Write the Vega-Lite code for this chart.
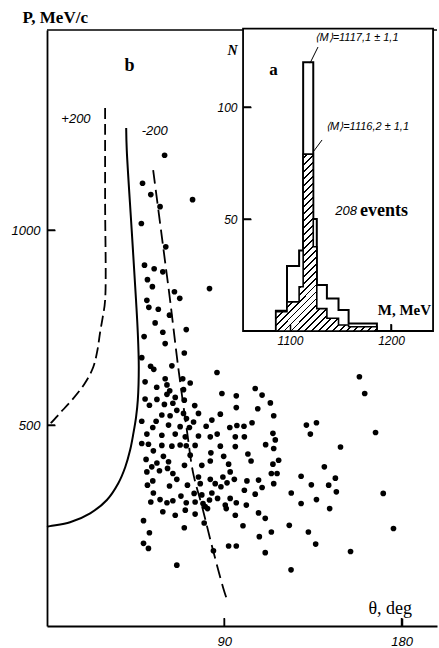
{
"$schema":"https://vega.github.io/schema/vega-lite/v6.json",
"width":390,"height":596,
"autosize":{"type":"none"},
"padding":{"left":47,"top":30,"right":2,"bottom":22},
"background":"white",
"config":{"view":{"stroke":null},"font":"Liberation Sans"},
"datasets":{
"pts":[
{"t":59.7,"p":1192},{"t":48.5,"p":1120},{"t":52.7,"p":1091},{"t":57.4,"p":1060},{"t":73.9,"p":1078},{"t":47.9,"p":1017},{"t":60.3,"p":957},{"t":49.5,"p":910},{"t":54.4,"p":901},{"t":58.8,"p":893},{"t":51.0,"p":873},{"t":53.5,"p":855},{"t":64.7,"p":842},{"t":67.4,"p":825},{"t":82.5,"p":850},{"t":50.7,"p":820},{"t":51.7,"p":802},{"t":56.5,"p":797},{"t":62.2,"p":782},{"t":54.9,"p":762},{"t":70.7,"p":745},{"t":58.8,"p":738},{"t":49.3,"p":727},{"t":60.0,"p":709},{"t":69.7,"p":685},{"t":48.1,"p":673},{"t":52.6,"p":651},{"t":54.2,"p":643},{"t":63.4,"p":652},{"t":86.3,"p":635},{"t":49.8,"p":611},{"t":60.0,"p":619},{"t":55.7,"p":597},{"t":60.9,"p":603},{"t":62.3,"p":588},{"t":68.9,"p":619},{"t":72.7,"p":608},{"t":69.3,"p":591},{"t":88.8,"p":581},{"t":105.7,"p":594},{"t":96.1,"p":575},{"t":109.2,"p":577},{"t":49.8,"p":567},{"t":52.0,"p":551},{"t":55.8,"p":566},{"t":60.9,"p":579},{"t":65.1,"p":571},{"t":63.9,"p":556},{"t":59.6,"p":553},{"t":69.7,"p":564},{"t":75.0,"p":550},{"t":58.3,"p":526},{"t":62.5,"p":524},{"t":65.9,"p":538},{"t":69.3,"p":530},{"t":70.8,"p":517},{"t":76.9,"p":530},{"t":74.4,"p":508},{"t":96.1,"p":545},{"t":88.0,"p":528},{"t":83.7,"p":513},{"t":48.1,"p":510},{"t":55.4,"p":510},{"t":53.7,"p":494},{"t":61.7,"p":500},{"t":67.6,"p":496},{"t":72.3,"p":494},{"t":80.8,"p":497},{"t":92.8,"p":494},{"t":96.4,"p":499},{"t":100.0,"p":497},{"t":104.1,"p":506},{"t":107.0,"p":542},{"t":113.4,"p":557},{"t":115.1,"p":524},{"t":131.7,"p":500},{"t":136.8,"p":506},{"t":133.7,"p":477},{"t":50.7,"p":477},{"t":65.1,"p":477},{"t":58.3,"p":474},{"t":70.2,"p":470},{"t":76.9,"p":472},{"t":82.9,"p":470},{"t":86.4,"p":477},{"t":95.6,"p":470},{"t":100.2,"p":470},{"t":114.7,"p":479},{"t":115.9,"p":462},{"t":48.1,"p":453},{"t":51.5,"p":451},{"t":58.3,"p":448},{"t":63.4,"p":446},{"t":67.6,"p":449},{"t":70.7,"p":447},{"t":75.2,"p":448},{"t":88.0,"p":446},{"t":95.6,"p":445},{"t":111.0,"p":450},{"t":158.6,"p":624},{"t":161.3,"p":581},{"t":166.8,"p":481},{"t":149.0,"p":444},{"t":115.1,"p":440},
{"t":50.3,"p":412},{"t":54.0,"p":434},{"t":59.1,"p":420},{"t":61.7,"p":406},{"t":55.8,"p":403},{"t":53.2,"p":393},{"t":50.7,"p":380},{"t":57.1,"p":383},{"t":61.2,"p":389},{"t":63.9,"p":376},{"t":65.9,"p":361},{"t":69.8,"p":397},{"t":72.7,"p":423},{"t":78.6,"p":397},{"t":82.9,"p":408},{"t":83.2,"p":429},{"t":89.7,"p":420},{"t":92.2,"p":400},{"t":102.0,"p":426},{"t":103.6,"p":408},{"t":51.0,"p":346},{"t":53.7,"p":357},{"t":62.2,"p":344},{"t":71.3,"p":346},{"t":76.9,"p":367},{"t":77.8,"p":350},{"t":82.9,"p":361},{"t":85.4,"p":350},{"t":88.3,"p":342},{"t":91.4,"p":352},{"t":89.3,"p":367},{"t":93.0,"p":380},{"t":95.1,"p":361},{"t":101.5,"p":357},{"t":107.4,"p":359},{"t":109.2,"p":340},{"t":100.2,"p":333},{"t":105.7,"p":323},{"t":54.0,"p":326},{"t":52.7,"p":303},{"t":57.4,"p":309},{"t":60.9,"p":301},{"t":63.9,"p":306},{"t":68.0,"p":318},{"t":70.7,"p":301},{"t":74.7,"p":325},{"t":75.2,"p":303},{"t":78.6,"p":321},{"t":79.2,"p":299},{"t":82.5,"p":308},{"t":81.5,"p":286},{"t":83.7,"p":326},{"t":86.6,"p":312},{"t":90.5,"p":295},{"t":91.0,"p":286},{"t":93.0,"p":312},{"t":96.1,"p":301},{"t":101.2,"p":295},{"t":58.8,"p":278},{"t":65.1,"p":269},{"t":70.2,"p":282},{"t":75.2,"p":272},{"t":80.3,"p":291},{"t":79.8,"p":249},{"t":95.6,"p":269},{"t":107.4,"p":275},{"t":110.8,"p":261},{"t":49.0,"p":255},{"t":52.0,"p":224},{"t":69.7,"p":237},{"t":99.5,"p":242},{"t":107.8,"p":214},{"t":49.0,"p":197},{"t":51.5,"p":184},{"t":84.5,"p":178},{"t":92.2,"p":190},{"t":96.1,"p":190},{"t":110.8,"p":173},{"t":65.9,"p":141},
{"t":117.6,"p":410},{"t":114.7,"p":400},{"t":116.8,"p":376},{"t":113.9,"p":376},{"t":115.1,"p":350},{"t":140.8,"p":393},{"t":129.0,"p":369},{"t":134.2,"p":347},{"t":143.0,"p":346},{"t":146.4,"p":364},{"t":146.9,"p":329},{"t":124.0,"p":326},{"t":136.8,"p":309},{"t":129.0,"p":299},{"t":143.5,"p":286},{"t":170.7,"p":325},{"t":113.9,"p":226},{"t":123.0,"p":243},{"t":132.7,"p":226},{"t":136.4,"p":195},{"t":154.1,"p":176},{"t":175.9,"p":235},{"t":123.9,"p":129}
],
"solid":[{"t":40.2,"p":1262},{"t":40.5,"p":1205},{"t":43.0,"p":1000},{"t":45.2,"p":820},{"t":46.1,"p":736},{"t":46.6,"p":649},{"t":46.1,"p":564},{"t":45.2,"p":520},{"t":43.9,"p":480},{"t":42.2,"p":436},{"t":39.7,"p":392},{"t":36.2,"p":351},{"t":30.4,"p":308},{"t":21.9,"p":274},{"t":11.7,"p":251},{"t":1.5,"p":241},{"t":0,"p":239}],
"dashA":[{"t":29.5,"p":1313},{"t":29.5,"p":1077},{"t":29.5,"p":820},{"t":28.3,"p":777},{"t":26.9,"p":736},{"t":25.6,"p":692},{"t":23.5,"p":649},{"t":19.3,"p":608},{"t":12.6,"p":564},{"t":6.6,"p":531},{"t":2.5,"p":508},{"t":0.5,"p":500}],
"dashB":[{"t":53.9,"p":1154},{"t":59.0,"p":956},{"t":62.5,"p":820},{"t":66.6,"p":649},{"t":71.2,"p":480},{"t":74.2,"p":377},{"t":78.8,"p":290},{"t":83.9,"p":187},{"t":89.5,"p":82},{"t":91.5,"p":51}],
"xticks":[{"t":90},{"t":180}],
"yticks":[{"p":500},{"p":1000}],
"mticks":[{"m":1100},{"m":1200}],
"nticks":[{"n":50},{"n":100}],
"tot":[{"m":1086,"n":9},{"m":1097,"n":29},{"m":1109,"n":36},{"m":1113,"n":120},{"m":1123,"n":50},{"m":1126.5,"n":20.5},{"m":1136.5,"n":14.5},{"m":1148,"n":9.4},{"m":1158,"n":3.4},{"m":1186,"n":0}],
"hat":[{"m":1086,"n":8.6},{"m":1097,"n":13},{"m":1109,"n":19.8},{"m":1113,"n":79},{"m":1123,"n":37.6},{"m":1126.5,"n":10},{"m":1136.5,"n":5.7},{"m":1148,"n":2.7},{"m":1158,"n":1.9},{"m":1186,"n":0}]
},
"layer":[
{"layer":[
{"data":{"name":"pts"},"mark":{"type":"circle","size":32,"color":"black","opacity":1},
"encoding":{
"x":{"field":"t","type":"quantitative","scale":{"domain":[0,198],"nice":false,"zero":false},
"axis":{"title":"θ, deg","values":[90,180],"format":"d","grid":false,"zindex":1,"domainColor":"black","domainWidth":1.8,"ticks":true,"tickColor":"black","tickWidth":1.5,"tickSize":-8,"labelPadding":17,"labelFont":"Liberation Sans","labelFontStyle":"italic","labelFontSize":13,"labelColor":"black","labelFlush":false,"labelOverlap":false,"titleFont":"Liberation Serif","titleFontSize":18,"titleFontWeight":"normal","titleColor":"black","titleX":321,"titleY":-18,"titleAlign":"left","titleBaseline":"middle","titleAngle":0}},
"y":{"field":"p","type":"quantitative","scale":{"domain":[-15,1513],"nice":false,"zero":false},
"axis":{"title":"P, MeV/c","values":[500,1000],"format":"d","grid":false,"zindex":1,"domainColor":"black","domainWidth":1.8,"ticks":true,"tickColor":"black","tickWidth":1.5,"tickSize":-8,"labelPadding":15,"labelFont":"Liberation Sans","labelFontStyle":"italic","labelFontSize":13,"labelColor":"black","labelFlush":false,"labelOverlap":false,"titleFont":"Liberation Serif","titleFontSize":17,"titleFontWeight":"bold","titleColor":"black","titleX":-25,"titleY":-13,"titleAlign":"left","titleBaseline":"middle","titleAngle":0}}}},
{"data":{"name":"xticks"},"mark":{"type":"rule","color":"black","strokeWidth":1.5},"encoding":{"x":{"field":"t","type":"quantitative"},"y":{"datum":-15},"y2":{"datum":5.5}}},
{"data":{"name":"yticks"},"mark":{"type":"rule","color":"black","strokeWidth":1.5},"encoding":{"y":{"field":"p","type":"quantitative"},"x":{"datum":0},"x2":{"datum":4.1}}},
{"data":{"name":"solid"},"mark":{"type":"line","color":"black","strokeWidth":2,"interpolate":"catmull-rom"},
"encoding":{"x":{"field":"t","type":"quantitative"},"y":{"field":"p","type":"quantitative"},"order":{"value":null}}},
{"data":{"name":"dashA"},"mark":{"type":"line","color":"black","strokeWidth":1.8,"strokeDash":[11,5],"interpolate":"catmull-rom"},
"encoding":{"x":{"field":"t","type":"quantitative"},"y":{"field":"p","type":"quantitative"},"order":{"value":null}}},
{"data":{"name":"dashB"},"mark":{"type":"line","color":"black","strokeWidth":1.8,"strokeDash":[14,6],"interpolate":"catmull-rom"},
"encoding":{"x":{"field":"t","type":"quantitative"},"y":{"field":"p","type":"quantitative"},"order":{"value":null}}},
{"data":{"values":[{}]},"mark":{"type":"rule","color":"black","strokeWidth":1.5},"encoding":{"y":{"datum":1513}}},
{"data":{"values":[{}]},"mark":{"type":"text","text":"b","font":"Liberation Serif","fontSize":18,"fontWeight":"bold","color":"black","align":"center","baseline":"middle"},"encoding":{"x":{"datum":41.9},"y":{"datum":1420}}},
{"data":{"values":[{}]},"mark":{"type":"text","text":"+200","font":"Liberation Sans","fontSize":13,"fontStyle":"italic","color":"black","align":"center","baseline":"middle"},"encoding":{"x":{"datum":14.7},"y":{"datum":1285}}},
{"data":{"values":[{}]},"mark":{"type":"text","text":"-200","font":"Liberation Sans","fontSize":13,"fontStyle":"italic","color":"black","align":"center","baseline":"middle"},"encoding":{"x":{"datum":54.7},"y":{"datum":1254}}}
]},
{"layer":[
{"data":{"values":[{}]},"mark":{"type":"rect","fill":"white","stroke":"black","strokeWidth":1.8},
"encoding":{
"x":{"datum":1053.5,"type":"quantitative","scale":{"domain":[859.4,1245.5],"nice":false,"zero":false},
"axis":{"orient":"bottom","offset":-295,"values":[1100,1200],"format":"d","domain":false,"grid":false,"title":null,"zindex":2,"ticks":true,"tickSize":-7,"tickWidth":1.5,"tickColor":"black","labelPadding":11,"labelFont":"Liberation Sans","labelFontStyle":"italic","labelFontSize":12,"labelColor":"black","labelFlush":false}},
"x2":{"datum":1241.6},
"y":{"datum":0,"type":"quantitative","scale":{"domain":[-131.7,134.4],"nice":false,"zero":false},
"axis":{"orient":"left","offset":-196,"values":[50,100],"format":"d","domain":false,"grid":false,"title":null,"zindex":2,"ticks":true,"tickSize":-8,"tickWidth":1.5,"tickColor":"black","labelPadding":14,"labelFont":"Liberation Sans","labelFontStyle":"italic","labelFontSize":12,"labelColor":"black","labelFlush":false}},
"y2":{"datum":135}}},
{"data":{"name":"mticks"},"mark":{"type":"rule","color":"black","strokeWidth":1.5},"encoding":{"x":{"field":"m","type":"quantitative"},"y":{"datum":0},"y2":{"datum":3.1}}},
{"data":{"name":"nticks"},"mark":{"type":"rule","color":"black","strokeWidth":1.5},"encoding":{"y":{"field":"n","type":"quantitative"},"x":{"datum":1053.5},"x2":{"datum":1061.4}}},
{"data":{"name":"tot"},"mark":{"type":"area","interpolate":"step-after","fill":"white","stroke":"black","strokeWidth":2},
"encoding":{"x":{"field":"m","type":"quantitative"},"y":{"field":"n","type":"quantitative"}}},
{"data":{"name":"hat"},"mark":{"type":"area","interpolate":"step-after","stroke":"black","strokeWidth":1.6,
"fill":{"gradient":"linear","x1":0,"y1":0,"x2":0.68,"y2":1.19,"stops":[
{"offset":0,"color":"#fff"},
{"offset":0.009,"color":"#fff"},{"offset":0.009,"color":"#000"},{"offset":0.016,"color":"#000"},{"offset":0.016,"color":"#fff"},
{"offset":0.034,"color":"#fff"},{"offset":0.034,"color":"#000"},{"offset":0.041,"color":"#000"},{"offset":0.041,"color":"#fff"},
{"offset":0.059,"color":"#fff"},{"offset":0.059,"color":"#000"},{"offset":0.066,"color":"#000"},{"offset":0.066,"color":"#fff"},
{"offset":0.084,"color":"#fff"},{"offset":0.084,"color":"#000"},{"offset":0.091,"color":"#000"},{"offset":0.091,"color":"#fff"},
{"offset":0.109,"color":"#fff"},{"offset":0.109,"color":"#000"},{"offset":0.116,"color":"#000"},{"offset":0.116,"color":"#fff"},
{"offset":0.134,"color":"#fff"},{"offset":0.134,"color":"#000"},{"offset":0.141,"color":"#000"},{"offset":0.141,"color":"#fff"},
{"offset":0.159,"color":"#fff"},{"offset":0.159,"color":"#000"},{"offset":0.166,"color":"#000"},{"offset":0.166,"color":"#fff"},
{"offset":0.184,"color":"#fff"},{"offset":0.184,"color":"#000"},{"offset":0.191,"color":"#000"},{"offset":0.191,"color":"#fff"},
{"offset":0.209,"color":"#fff"},{"offset":0.209,"color":"#000"},{"offset":0.216,"color":"#000"},{"offset":0.216,"color":"#fff"},
{"offset":0.234,"color":"#fff"},{"offset":0.234,"color":"#000"},{"offset":0.241,"color":"#000"},{"offset":0.241,"color":"#fff"},
{"offset":0.259,"color":"#fff"},{"offset":0.259,"color":"#000"},{"offset":0.266,"color":"#000"},{"offset":0.266,"color":"#fff"},
{"offset":0.284,"color":"#fff"},{"offset":0.284,"color":"#000"},{"offset":0.291,"color":"#000"},{"offset":0.291,"color":"#fff"},
{"offset":0.309,"color":"#fff"},{"offset":0.309,"color":"#000"},{"offset":0.316,"color":"#000"},{"offset":0.316,"color":"#fff"},
{"offset":0.334,"color":"#fff"},{"offset":0.334,"color":"#000"},{"offset":0.341,"color":"#000"},{"offset":0.341,"color":"#fff"},
{"offset":0.359,"color":"#fff"},{"offset":0.359,"color":"#000"},{"offset":0.366,"color":"#000"},{"offset":0.366,"color":"#fff"},
{"offset":0.384,"color":"#fff"},{"offset":0.384,"color":"#000"},{"offset":0.391,"color":"#000"},{"offset":0.391,"color":"#fff"},
{"offset":0.409,"color":"#fff"},{"offset":0.409,"color":"#000"},{"offset":0.416,"color":"#000"},{"offset":0.416,"color":"#fff"},
{"offset":0.434,"color":"#fff"},{"offset":0.434,"color":"#000"},{"offset":0.441,"color":"#000"},{"offset":0.441,"color":"#fff"},
{"offset":0.459,"color":"#fff"},{"offset":0.459,"color":"#000"},{"offset":0.466,"color":"#000"},{"offset":0.466,"color":"#fff"},
{"offset":0.484,"color":"#fff"},{"offset":0.484,"color":"#000"},{"offset":0.491,"color":"#000"},{"offset":0.491,"color":"#fff"},
{"offset":0.509,"color":"#fff"},{"offset":0.509,"color":"#000"},{"offset":0.516,"color":"#000"},{"offset":0.516,"color":"#fff"},
{"offset":0.534,"color":"#fff"},{"offset":0.534,"color":"#000"},{"offset":0.541,"color":"#000"},{"offset":0.541,"color":"#fff"},
{"offset":0.559,"color":"#fff"},{"offset":0.559,"color":"#000"},{"offset":0.566,"color":"#000"},{"offset":0.566,"color":"#fff"},
{"offset":0.584,"color":"#fff"},{"offset":0.584,"color":"#000"},{"offset":0.591,"color":"#000"},{"offset":0.591,"color":"#fff"},
{"offset":0.609,"color":"#fff"},{"offset":0.609,"color":"#000"},{"offset":0.616,"color":"#000"},{"offset":0.616,"color":"#fff"},
{"offset":0.634,"color":"#fff"},{"offset":0.634,"color":"#000"},{"offset":0.641,"color":"#000"},{"offset":0.641,"color":"#fff"},
{"offset":0.659,"color":"#fff"},{"offset":0.659,"color":"#000"},{"offset":0.666,"color":"#000"},{"offset":0.666,"color":"#fff"},
{"offset":0.684,"color":"#fff"},{"offset":0.684,"color":"#000"},{"offset":0.691,"color":"#000"},{"offset":0.691,"color":"#fff"},
{"offset":0.709,"color":"#fff"},{"offset":0.709,"color":"#000"},{"offset":0.716,"color":"#000"},{"offset":0.716,"color":"#fff"},
{"offset":0.734,"color":"#fff"},{"offset":0.734,"color":"#000"},{"offset":0.741,"color":"#000"},{"offset":0.741,"color":"#fff"},
{"offset":0.759,"color":"#fff"},{"offset":0.759,"color":"#000"},{"offset":0.766,"color":"#000"},{"offset":0.766,"color":"#fff"},
{"offset":0.784,"color":"#fff"},{"offset":0.784,"color":"#000"},{"offset":0.791,"color":"#000"},{"offset":0.791,"color":"#fff"},
{"offset":0.809,"color":"#fff"},{"offset":0.809,"color":"#000"},{"offset":0.816,"color":"#000"},{"offset":0.816,"color":"#fff"},
{"offset":0.834,"color":"#fff"},{"offset":0.834,"color":"#000"},{"offset":0.841,"color":"#000"},{"offset":0.841,"color":"#fff"},
{"offset":0.859,"color":"#fff"},{"offset":0.859,"color":"#000"},{"offset":0.866,"color":"#000"},{"offset":0.866,"color":"#fff"},
{"offset":0.884,"color":"#fff"},{"offset":0.884,"color":"#000"},{"offset":0.891,"color":"#000"},{"offset":0.891,"color":"#fff"},
{"offset":0.909,"color":"#fff"},{"offset":0.909,"color":"#000"},{"offset":0.916,"color":"#000"},{"offset":0.916,"color":"#fff"},
{"offset":0.934,"color":"#fff"},{"offset":0.934,"color":"#000"},{"offset":0.941,"color":"#000"},{"offset":0.941,"color":"#fff"},
{"offset":0.959,"color":"#fff"},{"offset":0.959,"color":"#000"},{"offset":0.966,"color":"#000"},{"offset":0.966,"color":"#fff"},
{"offset":0.984,"color":"#fff"},{"offset":0.984,"color":"#000"},{"offset":0.991,"color":"#000"},{"offset":0.991,"color":"#fff"},
{"offset":1,"color":"#fff"}]}},
"encoding":{"x":{"field":"m","type":"quantitative"},"y":{"field":"n","type":"quantitative"}}},
{"data":{"values":[{}]},"mark":{"type":"rule","color":"black","strokeWidth":1},"encoding":{"x":{"datum":1127.7},"y":{"datum":126.8},"x2":{"datum":1119.8},"y2":{"datum":119.6}}},
{"data":{"values":[{}]},"mark":{"type":"rule","color":"black","strokeWidth":1},"encoding":{"x":{"datum":1131.7},"y":{"datum":85.3},"x2":{"datum":1122.8},"y2":{"datum":79.9}}},
{"data":{"values":[{}]},"mark":{"type":"text","text":"N","font":"Liberation Serif","fontSize":14,"fontWeight":"bold","fontStyle":"italic","color":"black","align":"center","baseline":"middle"},"encoding":{"x":{"datum":1043},"y":{"datum":125}}},
{"data":{"values":[{}]},"mark":{"type":"text","text":"a","font":"Liberation Serif","fontSize":17,"fontWeight":"bold","color":"black","align":"center","baseline":"middle"},"encoding":{"x":{"datum":1083.7},"y":{"datum":116.5}}},
{"data":{"values":[{}]},"mark":{"type":"text","text":"⟨M⟩=1117,1 ± 1,1","font":"Liberation Sans","fontSize":11,"fontStyle":"italic","color":"black","align":"center","baseline":"middle"},"encoding":{"x":{"datum":1166.3},"y":{"datum":130.8}}},
{"data":{"values":[{}]},"mark":{"type":"text","text":"⟨M⟩=1116,2 ± 1,1","font":"Liberation Sans","fontSize":11,"fontStyle":"italic","color":"black","align":"center","baseline":"middle"},"encoding":{"x":{"datum":1176.7},"y":{"datum":91.1}}},
{"data":{"values":[{}]},"mark":{"type":"text","text":"208","font":"Liberation Sans","fontSize":13,"fontStyle":"italic","color":"black","align":"right","baseline":"middle"},"encoding":{"x":{"datum":1166.3},"y":{"datum":53.6}}},
{"data":{"values":[{}]},"mark":{"type":"text","text":"events","font":"Liberation Serif","fontSize":18,"fontWeight":"bold","color":"black","align":"left","baseline":"middle"},"encoding":{"x":{"datum":1169.3},"y":{"datum":53.6}}},
{"data":{"values":[{}]},"mark":{"type":"text","text":"M, MeV","font":"Liberation Serif","fontSize":15,"fontWeight":"bold","color":"black","align":"right","baseline":"middle"},"encoding":{"x":{"datum":1239.6},"y":{"datum":9.4}}}
]}
],
"resolve":{"scale":{"x":"independent","y":"independent"},"axis":{"x":"independent","y":"independent"}}
}
